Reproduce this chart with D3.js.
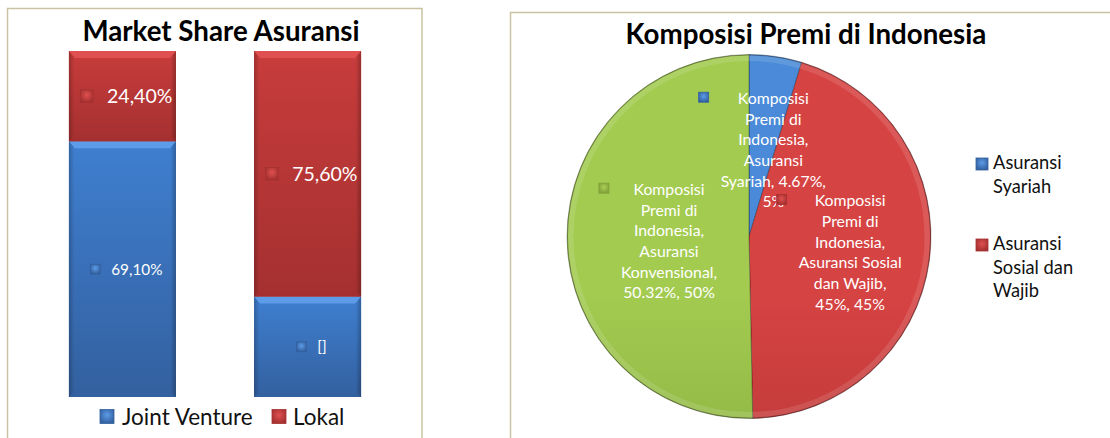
<!DOCTYPE html>
<html>
<head>
<meta charset="utf-8">
<script src="https://cdn.jsdelivr.net/npm/d3@7"></script>
<style>
  body { margin: 0; background: #fff; }
  svg { display: block; font-family: Lato, "Open Sans", sans-serif; }
</style>
</head>
<body>
<svg id="chart" width="1110" height="438"></svg>
<script>
// data for the stacked bars
var barCategories = ["Bar 1", "Bar 2"];
var seriesNames = ["Joint Venture", "Lokal"];
var jointVenture = [69.10, 30.90];
var lokal = [24.40, 75.60];
var jvLabels = ["69,10%", "[]"];
var lokalLabels = ["24,40%", "75,60%"];

// data for the pie
var pieNames = ["Asuransi Syariah", "Asuransi Sosial dan Wajib", "Asuransi Konvensional"];
var pieValues = [4.67, 45, 50.32];
var pieLabels = [
    ["Komposisi", "Premi di", "Indonesia,", "Asuransi", "Syariah, 4.67%,", "5%"],
    ["Komposisi", "Premi di", "Indonesia,", "Asuransi Sosial", "dan Wajib,", "45%, 45%"],
    ["Komposisi", "Premi di", "Indonesia,", "Asuransi", "Konvensional,", "50.32%, 50%"]
];
var pieLegend = [["Asuransi", "Syariah"], ["Asuransi", "Sosial dan", "Wajib"]];

var colors = {
    blue: { light: "#5c9ce8", mid: "#3f7fd0", dark: "#33609f" },
    red: { light: "#e05050", mid: "#c83c3c", dark: "#a53030" },
    green: { light: "#a9cf55", mid: "#9ac248", dark: "#819f3a" }
};
// slightly deeper shades for the pie
var pieShades = {
    blue: ["#4a8ad8", "#3466ad"],
    red: ["#d64343", "#a82f2f"],
    green: ["#a3cb50", "#7a9e37"]
};

var svg = d3.select("#chart");
var defs = svg.append("defs");

// vertical gradient helper
function vGrad(id, c1, c2, units, y1, y2) {
    var g = defs.append("linearGradient").attr("id", id)
        .attr("x1", 0).attr("x2", 0).attr("y1", y1 || 0).attr("y2", y2 || 1);
    if (units) g.attr("gradientUnits", units);
    g.append("stop").attr("offset", "0%").attr("stop-color", c1);
    g.append("stop").attr("offset", "100%").attr("stop-color", c2);
}
// radial gradient for the little key squares
function rGrad(id, c1, c2) {
    var g = defs.append("radialGradient").attr("id", id).attr("cx", "50%").attr("cy", "40%").attr("r", "60%");
    g.append("stop").attr("offset", "0%").attr("stop-color", c1);
    g.append("stop").attr("offset", "100%").attr("stop-color", c2);
}
Object.keys(colors).forEach(function (k) {
    vGrad("bar-" + k, colors[k].mid, colors[k].dark);
    rGrad("key-" + k, colors[k].light, colors[k].dark);
});
// dark side edges on the bars
var edge = defs.append("linearGradient").attr("id", "edge").attr("x1", 0).attr("x2", 1).attr("y1", 0).attr("y2", 0);
[[0, 0.22], [0.05, 0], [0.95, 0], [1, 0.25]].forEach(function (s) {
    edge.append("stop").attr("offset", s[0]).attr("stop-color", "#000").attr("stop-opacity", s[1]);
});

// panel frames
svg.append("rect").attr("x", 7.5).attr("y", 8.5).attr("width", 414.5).attr("height", 440)
    .attr("fill", "none").attr("stroke", "#c9c2a3").attr("stroke-width", 1.5);
svg.append("rect").attr("x", 510.5).attr("y", 12.5).attr("width", 640).attr("height", 440)
    .attr("fill", "none").attr("stroke", "#c9c2a3").attr("stroke-width", 1.5);

function drawKey(g, x, y, size, color) {
    g.append("rect").attr("x", x).attr("y", y).attr("width", size).attr("height", size)
        .attr("fill", "url(#key-" + color + ")")
        .attr("stroke", colors[color].dark).attr("stroke-width", 0.8);
}

// ---------- stacked 100% bar chart ----------
var barG = svg.append("g");
barG.append("text").attr("x", 221).attr("y", 41).attr("text-anchor", "middle")
    .attr("font-weight", "bold").attr("font-size", 27.7).text("Market Share Asuransi");

var rows = barCategories.map(function (c, i) {
    return { cat: c, jv: jointVenture[i], lokal: lokal[i], jvLabel: jvLabels[i], lokalLabel: lokalLabels[i] };
});
var stack = d3.stack().keys(["jv", "lokal"]).offset(d3.stackOffsetExpand);
var stacked = stack(rows);

var x = d3.scaleBand().domain(barCategories).range([30, 400]).paddingInner(0.4216).paddingOuter(0.21);
var y = d3.scaleLinear().domain([0, 1]).range([397, 51]);

var seriesColor = { jv: "blue", lokal: "red" };
var labelSize = { jv: 15.3, lokal: 19.5 };

stacked.forEach(function (layer) {
    var c = seriesColor[layer.key];
    layer.forEach(function (d) {
        var x0 = x(d.data.cat), w = x.bandwidth();
        var yTop = y(d[1]), yBot = y(d[0]);
        var seg = barG.append("g");
        seg.append("rect").attr("x", x0).attr("y", yTop).attr("width", w).attr("height", yBot - yTop)
            .attr("fill", "url(#bar-" + c + ")");
        seg.append("rect").attr("x", x0).attr("y", yTop).attr("width", w).attr("height", yBot - yTop)
            .attr("fill", "url(#edge)");
        // top bevel
        seg.append("path")
            .attr("d", "M" + x0 + "," + yTop + "H" + (x0 + w) + "L" + (x0 + w - 6) + "," + (yTop + 7) +
                "H" + (x0 + 6) + "Z")
            .attr("fill", colors[c].light);
        // bottom bevel
        seg.append("path")
            .attr("d", "M" + x0 + "," + yBot + "H" + (x0 + w) + "L" + (x0 + w - 4) + "," + (yBot - 4) +
                "H" + (x0 + 4) + "Z")
            .attr("fill", colors[c].dark).attr("opacity", 0.8);

        // data label with key
        var fs = labelSize[layer.key];
        var txt = layer.key === "jv" ? d.data.jvLabel : d.data.lokalLabel;
        var cy = (yTop + yBot) / 2;
        var lab = barG.append("g");
        var t = lab.append("text").attr("y", cy).attr("dy", "0.36em").attr("fill", "#fff")
            .attr("font-size", fs).text(txt);
        var tw = t.node().getComputedTextLength();
        var ks = fs * 0.64, gap = fs * 0.72;
        var left = x0 + w / 2 + 4 - (ks + gap + tw) / 2;
        drawKey(lab, left, cy - ks / 2, ks, c);
        t.attr("x", left + ks + gap);
    });
});

// bar legend
var barLegend = barG.append("g");
[["blue", 100, 122], ["red", 272, 293]].forEach(function (l, i) {
    drawKey(barLegend, l[1], 409.5, 14, l[0]);
    barLegend.append("text").attr("x", l[2]).attr("y", 425).attr("font-size", 22.5)
        .attr("fill", "#111").text(seriesNames[i]);
});

// ---------- pie chart ----------
var pieG = svg.append("g");
pieG.append("text").attr("x", 806).attr("y", 44).attr("text-anchor", "middle")
    .attr("font-weight", "bold").attr("font-size", 27.7).text("Komposisi Premi di Indonesia");

var cx = 749, cy = 236.5, r = 182;
var sliceColor = ["blue", "red", "green"];
sliceColor.forEach(function (c) {
    vGrad("pie-" + c, pieShades[c][0], pieShades[c][1], "userSpaceOnUse", cy - r, cy + r);
});

var pie = d3.pie().sort(null).value(function (d) { return d; });
var arcs = pie(pieValues);
var arc = d3.arc().innerRadius(0).outerRadius(r);
var labelArc = d3.arc().innerRadius(0).outerRadius(r);

var pieBody = pieG.append("g").attr("transform", "translate(" + cx + "," + cy + ")");
pieBody.selectAll(".slice")
    .data(arcs)
    .join("path")
    .attr("class", "slice")
    .attr("d", arc)
    .attr("fill", function (d, i) { return "url(#pie-" + sliceColor[i] + ")"; })
    .attr("stroke", "rgba(0,0,0,0.3)")
    .attr("stroke-width", 1);
// bevel ring on the rim
pieBody.append("circle").attr("r", r - 3.5).attr("fill", "none")
    .attr("stroke", "#fff").attr("stroke-opacity", 0.12).attr("stroke-width", 6);
pieBody.append("circle").attr("r", r - 0.5).attr("fill", "none")
    .attr("stroke", "rgba(0,0,0,0.28)").attr("stroke-width", 1);

// pie data labels
var lineH = 20.7, pfs = 15.8;
arcs.forEach(function (d, i) {
    var cen = labelArc.centroid(d);
    var lx = cx + cen[0], ly = cy + cen[1] + 3.5;
    var lines = pieLabels[i];
    var lab = pieG.append("g");
    var t = lab.append("text").attr("text-anchor", "middle").attr("fill", "#fff").attr("font-size", pfs);
    var firstY = ly - (lines.length - 1) * lineH / 2;
    lines.forEach(function (ln, j) {
        t.append("tspan").attr("y", firstY + j * lineH).attr("dy", "0.36em").text(ln);
    });
    var maxW = d3.max(t.selectAll("tspan").nodes(), function (n) { return n.getComputedTextLength(); });
    var ks = 10, gap = 12;
    var left = lx - (ks + gap + maxW) / 2;
    t.selectAll("tspan").attr("x", left + ks + gap + maxW / 2);
    drawKey(lab, left, firstY - ks / 2 - 1, ks, sliceColor[i]);
});

// pie legend
var pieLeg = pieG.append("g");
[["blue", 158, 169], ["red", 239, 250]].forEach(function (l, i) {
    drawKey(pieLeg, 976, l[1], 12, l[0]);
    pieLegend[i].forEach(function (ln, j) {
        pieLeg.append("text").attr("x", 993).attr("y", l[2] + j * 23.5).attr("font-size", 18.3)
            .attr("fill", "#111").text(ln);
    });
});
</script>
</body>
</html>
